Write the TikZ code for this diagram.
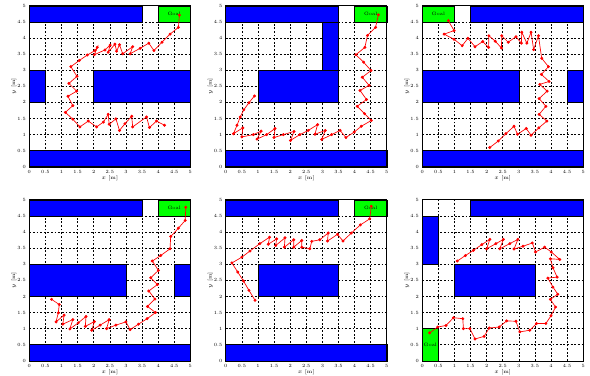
\documentclass[tikz,border=0pt]{standalone}
\usepackage{tikz}
\definecolor{ObstBlue}{HTML}{0000FF}
\definecolor{GoalGreen}{HTML}{00FF00}
\definecolor{PathRed}{HTML}{FF0000}
\tikzset{
  obst/.style={fill=ObstBlue, draw=black, line width=0.5pt},
  goalbox/.style={fill=GoalGreen, draw=black, line width=0.5pt},
  gridline/.style={black, line width=0.55pt, dash pattern=on 1.6pt off 1.6pt},
  route/.style={PathRed, line width=0.6pt, mark=*, mark size=1pt,
    mark options={solid, fill=PathRed, draw=PathRed}},
  ticklab/.style={font=\fontsize{4.2}{4.5}\selectfont, inner sep=0pt},
  axlab/.style={font=\fontsize{4.5}{5}\selectfont, inner sep=0pt},
}
% grid, ticks and axis names of one 5m x 5m map
\newcommand{\mapaxes}{%
  \foreach \v in {0.5,1,1.5,2,2.5,3,3.5,4,4.5} {
    \draw[gridline] (\v,0) -- (\v,5);
    \draw[gridline] (0,\v) -- (5,\v);
  }
  \foreach \t in {0,0.5,1,1.5,2,2.5,3,3.5,4,4.5,5} {
    \node[ticklab] at (\t,-0.17) {\t};
    \node[ticklab, anchor=east] at (-0.1,\t) {\t};
  }
  \node[axlab] at (2.5,-0.36) {$x$ [m]};
  \node[axlab, rotate=90] at (-0.48,2.5) {$y$ [m]};
}
\newcommand{\mapframe}{\draw[black, line width=0.6pt] (0,0) rectangle (5,5);}

\begin{document}
\begin{tikzpicture}
  \useasboundingbox (0,0) rectangle (18.32,11.65);

  % top left
  \begin{scope}[shift={(0.91,6.47)}]
    \mapaxes
    \draw[obst] (0,4.5) rectangle (3.5,5);
    \draw[goalbox] (4,4.5) rectangle (5,5);
    \draw[obst] (0,2) rectangle (0.5,3);
    \draw[obst] (2,2) rectangle (5,3);
    \draw[obst] (0,0) rectangle (5,0.5);
    \mapframe
    \node[ticklab] (goal1) at (4.5,4.75) {Goal};
    \draw[route] plot coordinates {(4.20,1.29) (3.95,1.42) (3.73,1.22) (3.64,1.55)
      (3.21,1.24) (3.18,1.57) (2.97,1.34) (2.80,1.13) (2.69,1.49) (2.48,1.32)
      (2.45,1.63) (2.30,1.39) (2.09,1.24) (1.83,1.42) (1.57,1.24) (1.35,1.48)
      (1.12,1.69) (1.35,1.90) (1.20,2.19) (1.47,2.35) (1.23,2.59) (1.48,2.81)
      (1.29,3.11) (1.55,3.30) (1.80,3.47) (2.04,3.61) (2.11,3.71) (2.02,3.48)
      (2.35,3.63) (2.51,3.78) (2.45,3.56) (2.66,3.81) (2.71,3.59) (2.80,3.79)
      (2.90,3.51) (3.21,3.73) (3.13,3.51) (3.44,3.68) (3.71,3.84) (3.87,3.61)
      (4.12,3.87) (4.37,4.12) (4.63,4.33) (4.66,4.71)};
  \end{scope}

  % top middle
  \begin{scope}[shift={(7.01,6.47)}]
    \mapaxes
    \draw[obst] (0,4.5) rectangle (3.5,5);
    \draw[goalbox] (4,4.5) rectangle (5,5);
    \draw[obst] (3,3) rectangle (3.5,4.5);
    \draw[obst] (1,2) rectangle (3.5,3);
    \draw[obst] (0,0) rectangle (5,0.5);
    \mapframe
    \node[ticklab] (goal2) at (4.5,4.75) {Goal};
    \draw[route] plot coordinates {(0.89,2.20) (0.72,1.99) (0.56,1.77) (0.45,1.55)
      (0.35,1.29) (0.24,1.03) (0.53,1.21) (0.50,0.93) (0.86,1.00) (1.10,1.11)
      (0.97,0.86) (1.27,1.00) (1.53,1.19) (1.50,0.91) (1.79,1.00) (2.12,1.10)
      (2.01,0.82) (2.30,1.00) (2.56,1.13) (2.85,1.31) (2.77,1.01) (3.09,1.13)
      (2.98,0.85) (3.29,1.00) (3.55,1.13) (3.73,0.91) (3.99,1.08) (4.21,1.26)
      (4.52,1.44) (4.31,1.65) (4.08,1.88) (4.37,2.09) (4.17,2.37) (4.45,2.53)
      (4.24,2.78) (4.51,2.99) (4.28,3.25) (4.04,3.48) (4.32,3.71) (4.40,4.08)
      (4.65,4.33) (4.74,4.72)};
  \end{scope}

  % top right
  \begin{scope}[shift={(13.11,6.47)}]
    \mapaxes
    \draw[goalbox] (0,4.5) rectangle (1,5);
    \draw[obst] (1.5,4.5) rectangle (5,5);
    \draw[obst] (0,2) rectangle (3,3);
    \draw[obst] (4.5,2) rectangle (5,3);
    \draw[obst] (0,0) rectangle (5,0.5);
    \mapframe
    \node[ticklab] (goal3) at (0.5,4.75) {Goal};
    \draw[route] plot coordinates {(2.10,0.60) (2.36,0.80) (2.60,1.03) (2.85,1.26)
      (2.96,1.01) (3.23,1.19) (3.38,0.98) (3.62,1.21) (3.87,1.42) (3.63,1.63)
      (3.84,1.88) (3.63,2.12) (3.88,2.35) (3.65,2.56) (3.94,2.65) (3.70,2.87)
      (3.92,3.11) (3.71,3.37) (3.61,4.07) (3.46,3.64) (3.38,4.18) (3.25,3.84)
      (3.09,4.18) (3.08,3.84) (2.91,4.04) (2.67,3.87) (2.47,4.07) (2.46,3.69)
      (2.27,3.90) (2.07,4.07) (2.06,3.71) (1.88,3.89) (1.64,3.73) (1.42,3.99)
      (1.24,3.76) (0.99,3.96) (0.68,4.12) (0.99,4.23) (0.81,4.54)};
  \end{scope}

  % bottom left
  \begin{scope}[shift={(0.91,0.445)}]
    \mapaxes
    \draw[obst] (0,4.5) rectangle (3.5,5);
    \draw[goalbox] (4,4.5) rectangle (5,5);
    \draw[obst] (0,2) rectangle (3,3);
    \draw[obst] (4.5,2) rectangle (5,3);
    \draw[obst] (0,0) rectangle (5,0.5);
    \mapframe
    \node[ticklab] (goal4) at (4.5,4.75) {Goal};
    \draw[route] plot coordinates {(0.69,1.91) (0.93,1.75) (0.90,1.49) (0.83,1.21)
      (1.08,1.42) (1.04,1.14) (1.35,1.28) (1.26,0.99) (1.52,1.18) (1.76,1.38)
      (1.74,1.07) (2.02,1.22) (1.94,0.95) (2.20,1.11) (2.48,1.28) (2.40,1.00)
      (2.69,1.11) (3.00,1.21) (3.13,0.97) (3.39,1.14) (3.66,1.31) (3.92,1.50)
      (3.67,1.69) (3.90,1.92) (3.71,2.17) (3.98,2.37) (3.77,2.58) (4.01,2.81)
      (3.82,3.10) (4.08,3.27) (4.37,3.48) (4.39,3.86) (4.63,4.12) (4.84,4.36)
      (4.86,4.77)};
  \end{scope}

  % bottom middle
  \begin{scope}[shift={(7.01,0.445)}]
    \mapaxes
    \draw[obst] (0,4.5) rectangle (3.5,5);
    \draw[goalbox] (4,4.5) rectangle (5,5);
    \draw[obst] (1,2) rectangle (3.5,3);
    \draw[obst] (0,0) rectangle (5,0.5);
    \mapframe
    \node[ticklab] (goal5) at (4.5,4.75) {Goal};
    \draw[route] plot coordinates {(0.91,1.88) (0.72,2.19) (0.55,2.48) (0.37,2.76)
      (0.19,3.04) (0.50,3.22) (0.75,3.41) (1.06,3.64) (1.36,3.84) (1.32,3.62)
      (1.58,3.79) (1.55,3.58) (1.84,3.82) (1.82,3.53) (2.11,3.76) (2.11,3.53)
      (2.36,3.74) (2.36,3.53) (2.61,3.48) (2.67,3.71) (2.92,3.76) (3.18,3.97)
      (3.16,3.72) (3.47,3.93) (3.64,3.72) (3.90,3.97) (4.18,4.22) (4.47,4.41)
      (4.52,4.80)};
  \end{scope}

  % bottom right
  \begin{scope}[shift={(13.11,0.445)}]
    \mapaxes
    \draw[obst] (1.5,4.5) rectangle (5,5);
    \draw[obst] (0,3) rectangle (0.5,4.5);
    \draw[obst] (1,2) rectangle (3.5,3);
    \draw[goalbox] (0,0) rectangle (0.5,1);
    \mapframe
    \node[ticklab] (goal6) at (0.25,0.5) {Goal};
    \draw[route] plot coordinates {(1.09,3.10) (1.34,3.27) (1.59,3.43) (1.85,3.61)
      (2.10,3.77) (2.00,3.48) (2.29,3.64) (2.52,3.77) (2.41,3.48) (2.72,3.64)
      (2.97,3.77) (2.85,3.47) (3.13,3.56) (3.42,3.66) (3.52,3.38) (3.80,3.53)
      (4.01,3.38) (4.27,3.15) (3.98,3.17) (4.06,2.89) (4.19,2.60) (3.90,2.57)
      (4.06,2.29) (4.21,2.07) (3.98,1.91) (4.14,1.67) (4.00,1.40) (3.84,1.16)
      (3.55,1.16) (3.34,0.95) (3.03,0.90) (2.91,1.23) (2.62,1.24) (2.39,1.05)
      (2.08,1.02) (1.92,0.76) (1.64,0.68) (1.48,1.00) (1.28,1.00) (1.26,1.31)
      (0.97,1.34) (0.74,1.10) (0.48,1.05) (0.23,0.87)};
  \end{scope}
\end{tikzpicture}
\end{document}
